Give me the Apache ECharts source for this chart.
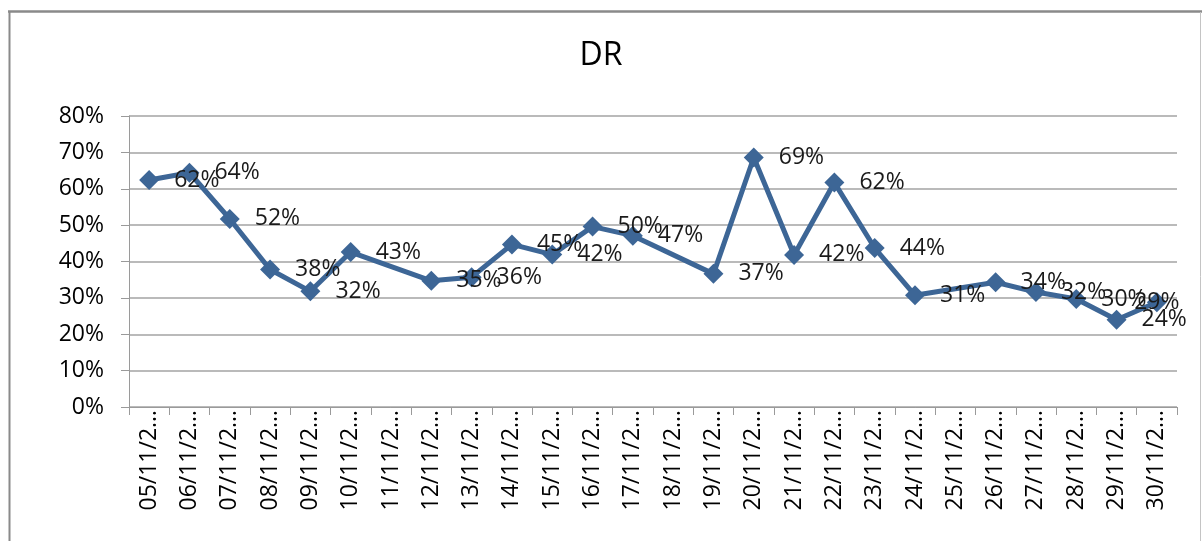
<!DOCTYPE html>
<html>
<head>
<meta charset="utf-8">
<title>DR</title>
<script src="https://cdn.jsdelivr.net/npm/echarts@6/dist/echarts.min.js"></script>
<style>
  html, body { margin: 0; padding: 0; background: #fff; }
  #main { width: 1202px; height: 541px; }
</style>
</head>
<body>
<div id="main"></div>
<script>
// categories (dates as shown, truncated like the original)
var days = ["05", "06", "07", "08", "09", "10", "11", "12", "13", "14", "15", "16", "17",
  "18", "19", "20", "21", "22", "23", "24", "25", "26", "27", "28", "29", "30"];
var categories = days.map(function (d) { return d + "/11/2\u2026"; });

// DR per day (null = no value, line is joined across it)
var drValues = [0.624, 0.644, 0.517, 0.378, 0.318, 0.426, null, 0.347, 0.357, 0.447,
  0.419, 0.496, 0.471, null, 0.366, 0.686, 0.418, 0.617, 0.437, 0.307, null,
  0.343, 0.316, 0.297, 0.240, 0.288];

// y axis tick range
var yMin = 0, yMax = 0.8, yStep = 0.1;

var FONT = "Open Sans";
var lineColor = "#3d6696";

function pct(v) { return Math.round(v * 100) + "%"; }

// last label is pulled back inside the frame, like the original
var seriesData = drValues.map(function (v, i) {
  if (i === drValues.length - 1) {
    return { value: v, label: { position: "inside", offset: [16, 0] } };
  }
  return v;
});

var chart = echarts.init(document.getElementById("main"));
chart.setOption({
  animation: false,
  backgroundColor: "#fff",
  title: {
    text: "DR",
    left: "center",
    top: 35,
    textStyle: { fontFamily: FONT, fontSize: 32, fontWeight: "normal", color: "#000" }
  },
  grid: { left: 129, right: 25, top: 116, bottom: 134 },
  xAxis: {
    type: "category",
    data: categories,
    boundaryGap: true,
    axisLine: { lineStyle: { color: "#9a9a9a", width: 1 } },
    axisTick: { show: true, interval: 0, length: 8, lineStyle: { color: "#9a9a9a" } },
    axisLabel: {
      interval: 0,
      rotate: 90,
      margin: 3,
      fontFamily: FONT,
      fontSize: 23,
      color: "#000"
    },
    splitLine: { show: false }
  },
  yAxis: {
    type: "value",
    min: yMin,
    max: yMax,
    interval: yStep,
    axisLine: { show: true, lineStyle: { color: "#9a9a9a", width: 1 } },
    axisTick: { show: true, length: 8, lineStyle: { color: "#9a9a9a" } },
    axisLabel: {
      margin: 25,
      fontFamily: FONT,
      fontSize: 23,
      color: "#000",
      formatter: function (v) { return pct(v); }
    },
    splitLine: { lineStyle: { color: "#a3a3a3", width: 1.5 } }
  },
  series: [{
    name: "DR",
    type: "line",
    data: seriesData,
    connectNulls: true,
    symbol: "diamond",
    symbolSize: 20,
    lineStyle: { color: lineColor, width: 5 },
    itemStyle: { color: lineColor },
    label: {
      show: true,
      position: "right",
      distance: 15,
      fontFamily: FONT,
      fontSize: 23,
      color: "#1a1a1a",
      formatter: function (p) { return pct(p.value); }
    },
    labelLayout: { hideOverlap: false }
  }],
  graphic: [
    { type: "line", shape: { x1: 8, y1: 11.5, x2: 1202, y2: 11.5 }, style: { stroke: "#8a8a8a", lineWidth: 2.5 } },
    { type: "line", shape: { x1: 9.5, y1: 11, x2: 9.5, y2: 541 }, style: { stroke: "#8a8a8a", lineWidth: 2 } },
    { type: "line", shape: { x1: 1200.5, y1: 12, x2: 1200.5, y2: 541 }, style: { stroke: "#c4c4c4", lineWidth: 1 } }
  ]
});
</script>
</body>
</html>
